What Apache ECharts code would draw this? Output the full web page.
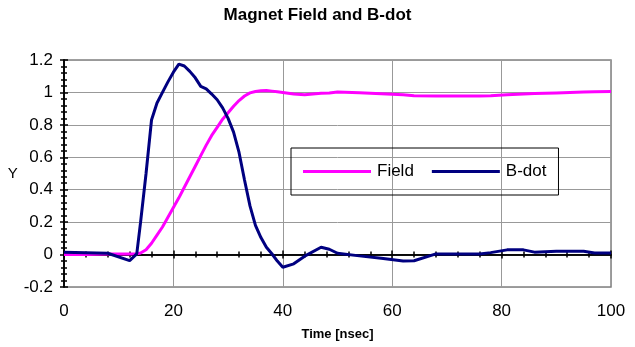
<!DOCTYPE html>
<html>
<head>
<meta charset="utf-8">
<script src="https://cdn.jsdelivr.net/npm/echarts@6/dist/echarts.min.js"></script>
<style>
  html, body { margin: 0; padding: 0; background: #fff; }
  #chart { width: 635px; height: 347px; }
</style>
</head>
<body>
<div id="chart"></div>
<script>
// time samples in nsec, shared by both traces
const times = [0, 4, 8, 12, 13.3, 14, 15, 16, 17, 18, 19, 20, 21, 22, 23, 24, 25, 26, 27, 28, 29, 30,
  31, 32, 33, 34, 35, 36, 37, 38, 39, 40, 42, 44, 47, 48.5, 50, 54, 58, 62, 64, 68, 72, 76, 78,
  81, 84, 86, 90, 95, 97, 100];

const fieldValues = [0, 0, 0.003, 0.003, 0.005, 0.01, 0.03, 0.07, 0.12, 0.17, 0.23, 0.29, 0.35, 0.415,
  0.48, 0.545, 0.61, 0.675, 0.735, 0.785, 0.835, 0.875, 0.915, 0.95, 0.978, 0.997, 1.006, 1.01,
  1.012, 1.008, 1.004, 1.0, 0.99, 0.985, 0.995, 0.997, 1.003, 0.998, 0.992, 0.985, 0.98, 0.978,
  0.978, 0.978, 0.979, 0.985, 0.99, 0.993, 0.997, 1.002, 1.004, 1.006];

const bdotValues = [0.015, 0.012, 0.008, -0.037, 0.004, 0.2, 0.5, 0.83, 0.935, 1.0, 1.065, 1.125,
  1.175, 1.163, 1.13, 1.09, 1.037, 1.022, 0.99, 0.955, 0.905, 0.84, 0.755, 0.63, 0.46, 0.3, 0.18,
  0.105, 0.045, 0.005, -0.04, -0.078, -0.057, -0.01, 0.045, 0.033, 0.008, -0.008, -0.023, -0.04,
  -0.038, 0.004, 0.004, 0.004, 0.012, 0.029, 0.029, 0.015, 0.02, 0.02, 0.01, 0.01];

const xTicks = { min: 0, max: 100, interval: 20 };
const yTicks = { min: -0.2, max: 1.2, interval: 0.2 };

const font = "'Liberation Sans', Arial, sans-serif";

const chart = echarts.init(document.getElementById("chart"), null, { renderer: "canvas" });

function pairs(values) {
  return times.map((t, i) => [t, values[i]]);
}

// axis drawn through y = 0 with ticks on both sides (Excel cross ticks)
function zeroAxis(inside) {
  return {
    type: "value",
    ...xTicks,
    position: "bottom",
    axisLine: { show: true, onZero: true, onZeroAxisIndex: 0, lineStyle: { color: "#000", width: 1.5 } },
    axisTick: { show: true, inside, length: 4, lineStyle: { color: "#000", width: 1.5 } },
    minorTick: { show: true, splitNumber: 5, length: 3, lineStyle: { color: "#000", width: 1.5 } },
    axisLabel: { show: false },
    splitLine: { show: false },
  };
}

function leftAxis(inside, main) {
  return {
    type: "value",
    ...yTicks,
    position: "left",
    name: main ? "Y" : "",
    nameLocation: "middle",
    nameRotate: 0,
    nameGap: 45,
    nameTextStyle: { fontFamily: font, fontSize: 15, color: "#000" },
    axisLine: { show: true, onZero: false, lineStyle: { color: "#000", width: 1.5 } },
    axisTick: { show: true, inside, length: 4, lineStyle: { color: "#000", width: 1.5 } },
    minorTick: { show: true, splitNumber: 5, length: 3, lineStyle: { color: "#000", width: 1.5 } },
    axisLabel: {
      show: main,
      margin: 11,
      fontFamily: font,
      fontSize: 17,
      color: "#000",
    },
    splitLine: { show: main, lineStyle: { color: "#999", width: 1 } },
  };
}

chart.setOption({
  animation: false,
  title: {
    text: "Magnet Field and B-dot",
    left: "center",
    top: 2,
    textStyle: { fontFamily: font, fontSize: 17, fontWeight: "bold", color: "#000" },
  },
  legend: {
    left: 291,
    top: 148,
    orient: "horizontal",
    borderColor: "#000",
    borderWidth: 1,
    padding: [15, 12, 15, 12],
    icon: "rect",
    itemWidth: 68,
    itemHeight: 3,
    itemGap: 18,
    textStyle: { fontFamily: font, fontSize: 17, color: "#000", padding: [0, 0, 0, 1] },
    data: ["Field", "B-dot"],
  },
  grid: {
    left: 64,
    right: 24,
    top: 60,
    bottom: 60,
    show: true,
    borderColor: "#808080",
    borderWidth: 1.5,
    backgroundColor: "transparent",
  },
  xAxis: [
    {
      type: "value",
      ...xTicks,
      position: "bottom",
      name: "Time [nsec]",
      nameLocation: "middle",
      nameGap: 41,
      nameTextStyle: { fontFamily: font, fontSize: 13, fontWeight: "bold", color: "#000" },
      axisLine: { show: false, onZero: false },
      axisTick: { show: false },
      axisLabel: { margin: 16, fontFamily: font, fontSize: 17, color: "#000" },
      splitLine: { show: true, lineStyle: { color: "#999", width: 1 } },
    },
    zeroAxis(false),
    zeroAxis(true),
  ],
  yAxis: [leftAxis(false, true), leftAxis(true, false)],
  series: [
    {
      name: "Field",
      type: "line",
      data: pairs(fieldValues),
      showSymbol: false,
      symbol: "none",
      color: "#ff00ff",
      lineStyle: { color: "#ff00ff", width: 3 },
      z: 3,
    },
    {
      name: "B-dot",
      type: "line",
      data: pairs(bdotValues),
      showSymbol: false,
      symbol: "none",
      color: "#000080",
      lineStyle: { color: "#000080", width: 3 },
      z: 4,
    },
  ],
});
</script>
</body>
</html>
